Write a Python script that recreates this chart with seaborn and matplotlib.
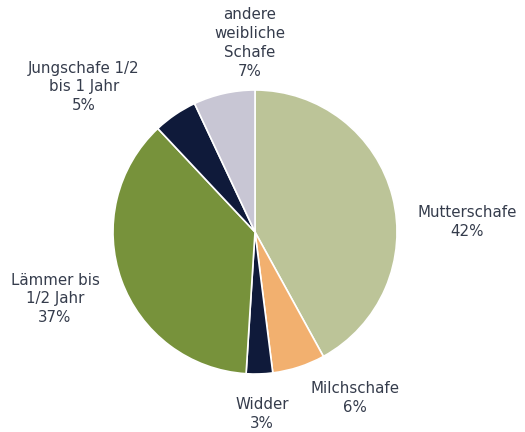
import matplotlib
matplotlib.use("Agg")
import matplotlib.pyplot as plt
import seaborn as sns

# ------------------------------

LABELS = [
    "Mutterschafe",
    "Milchschafe",
    "Widder",
    "Lämmer bis\n1/2 Jahr",
    "Jungschafe 1/2\nbis 1 Jahr",
    "andere\nweibliche\nSchafe",
]
SHARES = [42, 6, 3, 37, 5, 7]

COLORS = [
    "#bcc498",  # sage
    "#f2b06f",  # peach
    "#0f1a3a",  # navy
    "#77923b",  # olive
    "#0f1a3a",  # navy
    "#c8c6d4",  # lavender grey
]
TEXT_COLOR = "#353c4c"

# label centres in pixels (x, y from top), figure is 525x432
LABEL_POS = [
    (467, 222),
    (355, 398),
    (262, 414),
    (55, 299),
    (84, 87),
    (250, 43),
]

sns.set_theme(style="white")
plt.rcParams["font.family"] = ["DejaVu Sans"]

DPI = 100
W, H = 525, 432
CX, CY, R = 255, 232, 142

fig = plt.figure(figsize=(W / DPI, H / DPI), dpi=DPI)
ax = fig.add_axes([0, 0, 1, 1])

ax.pie(
    SHARES,
    colors=COLORS,
    startangle=90,
    counterclock=False,
    wedgeprops={"edgecolor": "white", "linewidth": 1.2},
)

# map pixels to data units (pie radius = 1)
ax.set_xlim(-CX / R, (W - CX) / R)
ax.set_ylim(-(H - CY) / R, CY / R)
ax.set_aspect("auto")
ax.axis("off")

for label, share, (px, py) in zip(LABELS, SHARES, LABEL_POS):
    ax.text(
        (px - CX) / R,
        (CY - py) / R,
        f"{label}\n{share}%",
        ha="center",
        va="center",
        fontsize=10.8,
        color=TEXT_COLOR,
        linespacing=1.33,
    )

fig.savefig("out.png", dpi=DPI)
plt.close(fig)
